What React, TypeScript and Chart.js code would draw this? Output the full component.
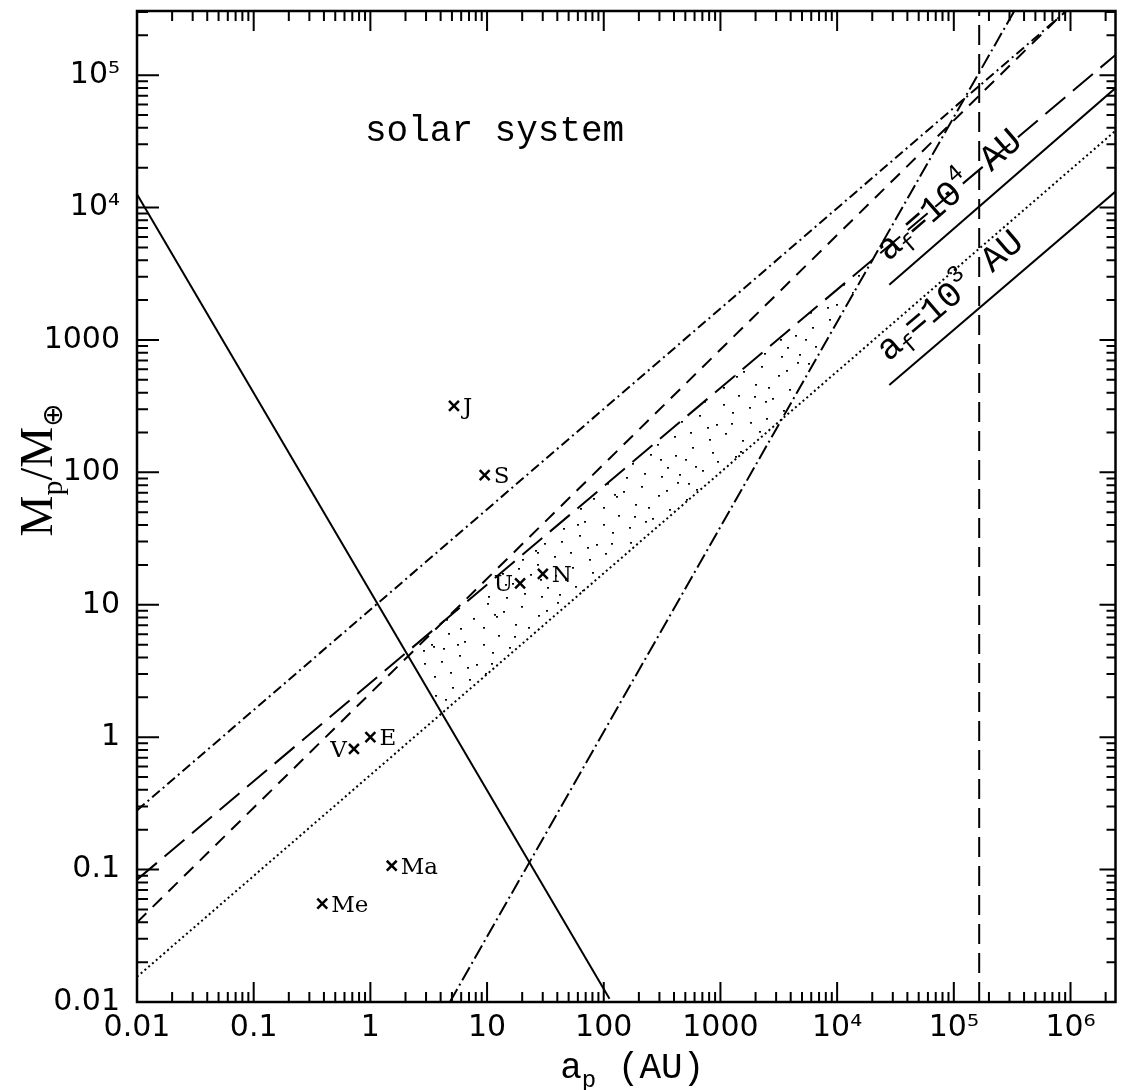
import React, { useEffect, useRef } from 'react';
import { Chart, registerables } from 'chart.js';

Chart.register(...registerables);

// ---- axis ranges & ticks ----
const X_MIN = 0.01;
const X_MAX = 2.43e6;
const Y_MIN = 0.01;
const Y_MAX = 3.05e5;

const xTickValues = [0.01, 0.1, 1, 10, 100, 1000, 1e4, 1e5, 1e6];
const xTickLabels = ['0.01', '0.1', '1', '10', '100', '1000', '10⁴', '10⁵', '10⁶'];
const yTickValues = [0.01, 0.1, 1, 10, 100, 1000, 1e4, 1e5];
const yTickLabels = ['0.01', '0.1', '1', '10', '100', '1000', '10⁴', '10⁵'];

// ---- planets (a_p in AU, M_p in Earth masses) ----
const planetNames = ['Me', 'V', 'E', 'Ma', 'J', 'S', 'U', 'N'];
const planetA = [0.387, 0.723, 1.0, 1.524, 5.203, 9.537, 19.19, 30.07];
const planetM = [0.0553, 0.815, 1.0, 0.107, 317.8, 95.2, 14.5, 17.1];

// ---- curves (end points, straight in log-log) ----
const solidA = [0.01, 112];
const solidM = [12600, 0.0106];
const dashDotA = [0.01, 2.4e6];
const dashDotM = [0.28, 6.3e5];
const shortDashA = [0.01, 2.4e6];
const shortDashM = [0.04, 7.1e5];
const longDashA = [0.01, 2.43e6];
const longDashM = [0.084, 1.42e5];
const dottedA = [0.01, 2.43e6];
const dottedM = [0.0155, 3.8e4];
const steepA = [4.8, 3.4e5];
const steepM = [0.01, 3.2e5];
const verticalA = [1.65e5, 1.65e5];
const verticalM = [0.01, 3.05e5];
const af4A = [2.8e4, 2.43e6];
const af4M = [2610, 7.98e4];
const af3A = [2.8e4, 2.43e6];
const af3M = [457, 1.32e4];

// ---- annotation text ----
const titleText = 'solar system';
const titleA = 11.6;
const titleM = 3.2e4;

const pts = (A: number[], M: number[]) => A.map((a, i) => ({ x: a, y: M[i] }));

const toLog = (A: number[], M: number[]) => {
  const u1 = Math.log10(A[0]), u2 = Math.log10(A[1]);
  const v1 = Math.log10(M[0]), v2 = Math.log10(M[1]);
  const m = (v2 - v1) / (u2 - u1);
  return { m, c: v1 - m * u1 };
};
const intersect = (l1: any, l2: any) => {
  const u = (l2.c - l1.c) / (l1.m - l2.m);
  return { x: Math.pow(10, u), y: Math.pow(10, l1.m * u + l1.c) };
};

type Part = { t: string; size?: number; dy?: number; family?: string };

function richWidth(ctx: CanvasRenderingContext2D, parts: Part[], base: number, family: string) {
  let w = 0;
  for (const p of parts) {
    ctx.font = `${p.size || base}px ${p.family || family}`;
    w += ctx.measureText(p.t).width;
  }
  return w;
}
function drawRich(ctx: CanvasRenderingContext2D, parts: Part[], x: number, y: number, base: number, family: string) {
  let cx = x;
  for (const p of parts) {
    ctx.font = `${p.size || base}px ${p.family || family}`;
    ctx.fillText(p.t, cx, y + (p.dy || 0));
    cx += ctx.measureText(p.t).width;
  }
}

// stipple tile (fixed, hand-placed texture, 120x120)
const stippleDots = [
  [7, 3], [23, 11], [41, 6], [58, 15], [77, 2], [96, 9], [113, 18],
  [3, 27], [18, 35], [35, 24], [52, 38], [69, 29], [88, 33], [104, 41],
  [12, 52], [29, 47], [46, 58], [63, 50], [81, 61], [99, 55], [116, 64],
  [5, 73], [22, 80], [39, 71], [57, 84], [74, 76], [92, 87], [109, 79],
  [15, 96], [32, 103], [50, 94], [67, 107], [85, 99], [102, 110], [117, 101],
  [8, 116], [26, 117], [44, 113], [61, 116], [79, 114], [95, 106],
  [14, 14], [48, 27], [86, 19], [30, 62], [71, 44], [107, 67], [55, 70], [20, 91],
  [90, 72], [38, 88], [75, 95], [112, 92], [3, 44], [66, 10], [100, 28], [45, 41],
  [25, 104], [83, 48], [60, 99], [16, 16], [73, 46], [57, 72], [22, 93], [34, 36],
  [97, 44], [11, 63], [64, 63], [88, 3], [42, 79],
];

const overlayPlugin = {
  id: 'overlay',
  beforeDatasetsDraw(chart: any) {
    const { ctx, chartArea: ca, scales } = chart;
    const xs = scales.x, ys = scales.y;
    const L = toLog(longDashA, longDashM);
    const D = toLog(dottedA, dottedM);
    const S = toLog(solidA, solidM);
    const T = toLog(steepA, steepM);
    const poly = [intersect(L, S), intersect(L, T), intersect(D, T), intersect(D, S)];
    const tile = document.createElement('canvas');
    tile.width = 120; tile.height = 120;
    const tctx = tile.getContext('2d')!;
    tctx.fillStyle = '#000';
    for (const [dx, dy] of stippleDots) tctx.fillRect(dx, dy, 2, 1.7);
    const pattern = ctx.createPattern(tile, 'repeat');
    ctx.save();
    ctx.beginPath();
    ctx.rect(ca.left, ca.top, ca.right - ca.left, ca.bottom - ca.top);
    ctx.clip();
    ctx.beginPath();
    poly.forEach((p, i) => {
      const px = xs.getPixelForValue(p.x), py = ys.getPixelForValue(p.y);
      if (i === 0) ctx.moveTo(px, py); else ctx.lineTo(px, py);
    });
    ctx.closePath();
    ctx.fillStyle = pattern;
    ctx.fill();
    ctx.restore();
  },
  afterDatasetsDraw(chart: any) {
    const { ctx, chartArea: ca, scales } = chart;
    const xs = scales.x, ys = scales.y;
    ctx.save();
    ctx.fillStyle = '#000';
    ctx.strokeStyle = '#000';

    // frame
    ctx.lineWidth = 2.5;
    ctx.strokeRect(ca.left, ca.top, ca.right - ca.left, ca.bottom - ca.top);

    // inward ticks on four sides
    ctx.lineWidth = 2;
    const decadesX: number[] = [];
    for (let e = -2; e <= 6; e++) for (let k = 1; k <= 9; k++) decadesX.push(k * Math.pow(10, e));
    ctx.beginPath();
    for (const v of decadesX) {
      if (v < X_MIN * 0.999 || v > X_MAX) continue;
      const major = Math.abs(Math.log10(v) - Math.round(Math.log10(v))) < 1e-6;
      const len = major ? 20 : 10;
      const px = xs.getPixelForValue(v);
      ctx.moveTo(px, ca.bottom); ctx.lineTo(px, ca.bottom - len);
      ctx.moveTo(px, ca.top); ctx.lineTo(px, ca.top + len);
    }
    const decadesY: number[] = [];
    for (let e = -2; e <= 5; e++) for (let k = 1; k <= 9; k++) decadesY.push(k * Math.pow(10, e));
    for (const v of decadesY) {
      if (v < Y_MIN * 0.999 || v > Y_MAX) continue;
      const major = Math.abs(Math.log10(v) - Math.round(Math.log10(v))) < 1e-6;
      const py = ys.getPixelForValue(v);
      ctx.moveTo(ca.left, py); ctx.lineTo(ca.left + (major ? 22 : 11), py);
      ctx.moveTo(ca.right, py); ctx.lineTo(ca.right - (major ? 16 : 9), py);
    }
    ctx.stroke();

    // planet labels
    ctx.textBaseline = 'alphabetic';
    const leftLabel = new Set(['U', 'V']);
    planetNames.forEach((n, i) => {
      const px = xs.getPixelForValue(planetA[i]);
      const py = ys.getPixelForValue(planetM[i]);
      ctx.font = '23px "DejaVu Serif"';
      if (leftLabel.has(n)) {
        ctx.textAlign = 'right';
        ctx.fillText(n, px - 7, py + 8);
      } else {
        ctx.textAlign = 'left';
        ctx.fillText(n, px + 9, py + 8);
      }
    });

    // "solar system"
    ctx.textAlign = 'center';
    ctx.font = '36px "Liberation Mono"';
    ctx.fillText(titleText, xs.getPixelForValue(titleA), ys.getPixelForValue(titleM));

    // a_f labels along the short solid lines
    ctx.textAlign = 'left';
    const afLabel = (A: number[], M: number[], exp: string) => {
      const x0 = xs.getPixelForValue(A[0]), y0 = ys.getPixelForValue(M[0]);
      const x1 = xs.getPixelForValue(A[1]), y1 = ys.getPixelForValue(M[1]);
      const ang = Math.atan2(y1 - y0, x1 - x0);
      ctx.save();
      ctx.translate(x0, y0);
      ctx.rotate(ang);
      drawRich(ctx, [
        { t: 'a' }, { t: 'f', size: 24, dy: 8 }, { t: '=10' }, { t: exp, size: 24, dy: -16 }, { t: ' AU' },
      ], 14, -18, 36, '"Liberation Mono"');
      ctx.restore();
    };
    afLabel(af4A, af4M, '4');
    afLabel(af3A, af3M, '3');

    // axis titles
    const xParts: Part[] = [{ t: 'a' }, { t: 'p', size: 24, dy: 9 }, { t: ' (AU)' }];
    const xw = richWidth(ctx, xParts, 36, '"Liberation Mono"');
    drawRich(ctx, xParts, (ca.left + ca.right) / 2 + 6 - xw / 2, 1078, 36, '"Liberation Mono"');

    const yParts: Part[] = [
      { t: 'M' }, { t: 'p', size: 30, dy: 10 }, { t: '/M' }, { t: '⊕', size: 28, dy: 10, family: '"DejaVu Sans"' },
    ];
    const yw = richWidth(ctx, yParts, 46, '"Liberation Serif"');
    ctx.save();
    ctx.translate(52, 470);
    ctx.rotate(-Math.PI / 2);
    drawRich(ctx, yParts, -yw / 2, 0, 46, '"Liberation Serif"');
    ctx.restore();

    ctx.restore();
  },
};

export default function App() {
  const ref = useRef<HTMLCanvasElement>(null);
  useEffect(() => {
    document.body.style.margin = '0';
    const line = (A: number[], M: number[], dash: number[], width = 2) => ({
      type: 'scatter' as const,
      data: pts(A, M),
      showLine: true,
      pointRadius: 0,
      borderColor: '#000',
      borderWidth: width,
      borderDash: dash,
      fill: false,
    });
    const chart = new Chart(ref.current!, {
      type: 'scatter',
      data: {
        datasets: [
          line(solidA, solidM, []),
          line(dashDotA, dashDotM, [10, 4, 2, 4]),
          line(shortDashA, shortDashM, [13, 9]),
          line(longDashA, longDashM, [26, 10]),
          line(dottedA, dottedM, [2, 3]),
          line(steepA, steepM, [15, 4, 2, 4]),
          line(verticalA, verticalM, [20, 9]),
          line(af4A, af4M, []),
          line(af3A, af3M, []),
          {
            type: 'scatter',
            data: pts(planetA, planetM),
            pointStyle: 'crossRot',
            pointRadius: 7,
            borderColor: '#000',
            borderWidth: 2.5,
            showLine: false,
          } as any,
        ] as any,
      },
      options: {
        animation: false,
        responsive: false,
        maintainAspectRatio: false,
        layout: { padding: { left: 0, top: 11, right: 5, bottom: 0 } },
        plugins: { legend: { display: false }, tooltip: { enabled: false } },
        scales: {
          x: {
            type: 'logarithmic',
            min: X_MIN,
            max: X_MAX,
            grid: { display: false, drawTicks: false },
            border: { display: false },
            ticks: {
              autoSkip: false,
              maxRotation: 0,
              minRotation: 0,
              padding: 8,
              color: '#000',
              font: { family: '"DejaVu Sans"', size: 30 },
              callback: (_v: any, i: number) => xTickLabels[i],
            },
            afterBuildTicks: (s: any) => { s.ticks = xTickValues.map((v) => ({ value: v })); },
            afterFit: (s: any) => { s.height = 88; s.paddingLeft = 0; s.paddingRight = 0; },
          },
          y: {
            type: 'logarithmic',
            min: Y_MIN,
            max: Y_MAX,
            grid: { display: false, drawTicks: false },
            border: { display: false },
            ticks: {
              autoSkip: false,
              padding: 17,
              color: '#000',
              font: { family: '"DejaVu Sans"', size: 30 },
              callback: (_v: any, i: number) => yTickLabels[i],
            },
            afterBuildTicks: (s: any) => { s.ticks = yTickValues.map((v) => ({ value: v })); },
            afterFit: (s: any) => { s.width = 137; s.paddingTop = 0; s.paddingBottom = 0; },
          },
        },
      } as any,
      plugins: [overlayPlugin],
    });
    return () => chart.destroy();
  }, []);
  return (
    <div style={{ width: 1125, height: 1090 }}>
      <canvas ref={ref} width={1125} height={1090} style={{ display: 'block' }} />
    </div>
  );
}
